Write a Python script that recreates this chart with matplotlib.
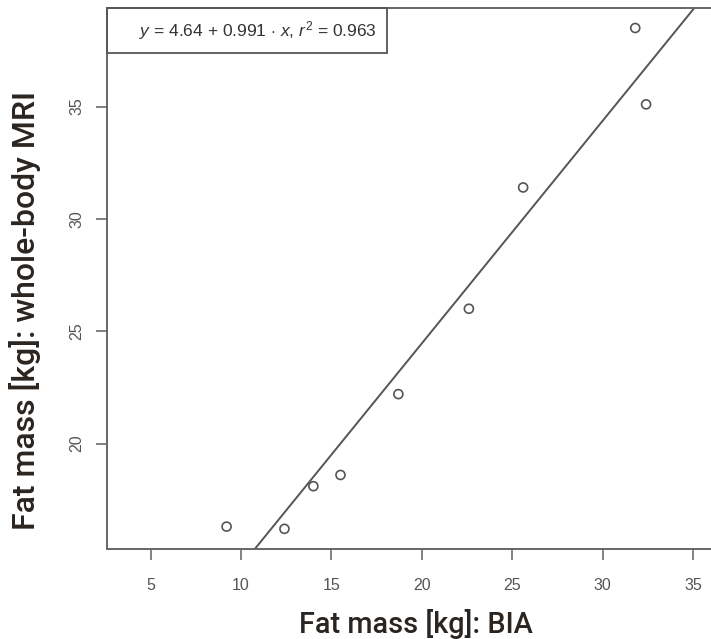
import matplotlib
matplotlib.use("Agg")
import matplotlib.pyplot as plt
from matplotlib.patches import Rectangle

# Data
bia = [9.2, 12.4, 14.0, 15.5, 18.7, 22.6, 25.6, 31.8, 32.4]
mri = [16.3, 16.2, 18.1, 18.6, 22.2, 26.0, 31.4, 38.5, 35.1]
intercept = 4.64
slope = 0.991
r2 = 0.963
xticks = [5, 10, 15, 20, 25, 30, 35]
yticks = [20, 25, 30, 35]

plt.rcParams['font.family'] = ['Liberation Sans', 'DejaVu Sans']
plt.rcParams['mathtext.fontset'] = 'custom'
plt.rcParams['mathtext.rm'] = 'Liberation Sans'
plt.rcParams['mathtext.it'] = 'Liberation Sans:italic'

W, H = 711, 639
fig = plt.figure(figsize=(W / 100, H / 100), dpi=100)
fig.patch.set_facecolor('white')

left, right, top, bottom = 106.7, 711, 8, 549.3
ax = fig.add_axes([left / W, 1 - bottom / H, (right - left) / W, (bottom - top) / H])
ax.set_xlim(2.57, 35.99)
ax.set_ylim(15.29, 39.39)

dark = '#555555'
ax.scatter(bia, mri, s=42, facecolors='none', edgecolors=dark, linewidths=1.2, zorder=3)
ax.axline((0, intercept), slope=slope, color=dark, lw=1.4, zorder=2)

for s in ['left', 'bottom', 'top']:
    ax.spines[s].set_color('#666666')
    ax.spines[s].set_linewidth(1.4)
ax.spines['right'].set_visible(False)

ax.set_xticks(xticks)
ax.set_yticks(yticks)
ax.tick_params(axis='both', direction='out', length=8, width=1.3, color='#777777',
               labelcolor='#555555', labelsize=11.5)
ax.tick_params(axis='x', pad=13)
ax.tick_params(axis='y', pad=8)
for lab in ax.get_yticklabels():
    lab.set_rotation(90)
    lab.set_va('center')

# legend-like box
box_r = (387 - left) / (right - left)
box_b = (bottom - 53) / (bottom - top)
ax.add_patch(Rectangle((0, box_b), box_r, 1 - box_b, transform=ax.transAxes,
                       fill=False, edgecolor='#555555', lw=1.3, clip_on=False, zorder=4))
ax.text(box_r / 2 + 0.019, (1 + box_b) / 2,
        r'$y$ = %.2f + %.3f $\cdot$ $x$, $r^2$ = %.3f' % (intercept, slope, r2),
        transform=ax.transAxes, ha='center', va='center', fontsize=12.5, color='#333333')

fig.text(416 / W, 1 - 624 / H, 'Fat mass [kg]: BIA', ha='center', va='center',
         fontsize=20.8, fontfamily=['Roboto', 'DejaVu Sans'], fontweight='medium',
         color='#2a2520')
fig.text(25 / W, 1 - 311 / H, 'Fat mass [kg]: whole-body MRI', ha='center', va='center',
         rotation=90, fontsize=23, fontfamily=['Roboto', 'DejaVu Sans'],
         fontweight='medium', color='#2a2520')

fig.savefig('out.png', dpi=100, facecolor='white')
